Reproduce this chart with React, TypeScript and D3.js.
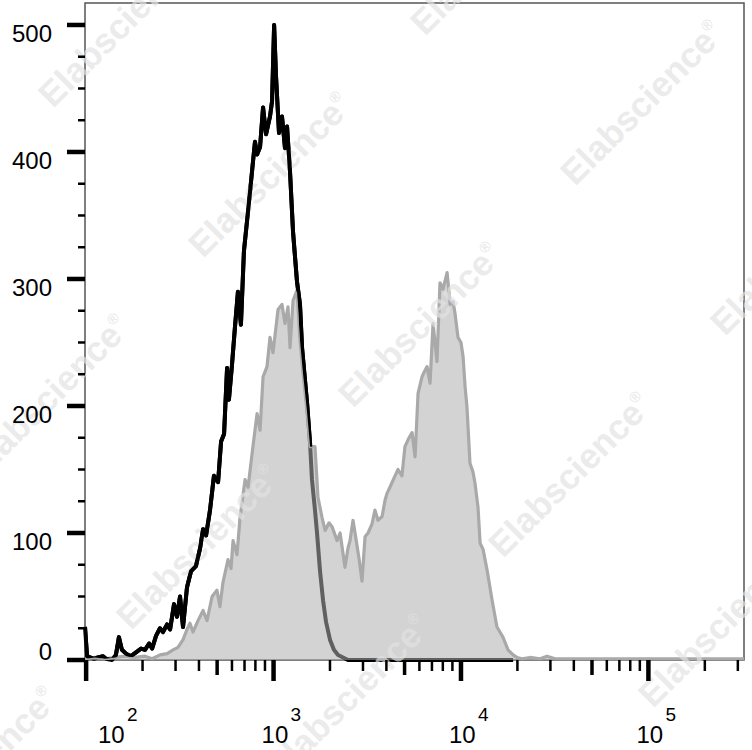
import { useEffect, useRef } from 'react';
import * as d3 from 'd3';

// [log10 fluorescence intensity, event count]
type Bin = [number, number];

// isotype control (black outline)
const isotypeBins: Bin[] = [
  [1.994, 26], [2.005, 3], [2.021, 2], [2.042, 1], [2.063, 2], [2.09, 3], [2.106, 1],
  [2.138, 0], [2.159, 4], [2.175, 18], [2.191, 8], [2.213, 5], [2.239, 3], [2.266, 6],
  [2.293, 9], [2.314, 8], [2.336, 13], [2.352, 9], [2.373, 19], [2.394, 25], [2.41, 22],
  [2.432, 28], [2.448, 24], [2.469, 44], [2.485, 34], [2.501, 50], [2.517, 26], [2.538, 57],
  [2.56, 70], [2.586, 74], [2.608, 88], [2.624, 103], [2.64, 98], [2.661, 118], [2.682, 145],
  [2.704, 140], [2.72, 172], [2.736, 178], [2.752, 230], [2.762, 205], [2.778, 232],
  [2.794, 262], [2.81, 290], [2.826, 264], [2.842, 322], [2.858, 345], [2.874, 368],
  [2.89, 392], [2.901, 408], [2.912, 398], [2.928, 404], [2.944, 435], [2.96, 414],
  [2.981, 428], [2.992, 440], [3.003, 500], [3.013, 460], [3.029, 415], [3.045, 428],
  [3.061, 403], [3.072, 420], [3.088, 384], [3.104, 337], [3.125, 298], [3.141, 280],
  [3.152, 246], [3.168, 220], [3.179, 202], [3.195, 170], [3.205, 142], [3.221, 118],
  [3.232, 100], [3.248, 70], [3.264, 47], [3.28, 30], [3.301, 16], [3.322, 8], [3.344, 4],
  [3.371, 2], [3.397, 0], [4.278, 0],
];

// stained sample (grey filled)
const stainedBins: Bin[] = [
  [1.994, 1], [2.047, 2], [2.101, 1], [2.154, 2], [2.207, 3], [2.261, 2], [2.314, 3],
  [2.352, 1], [2.394, 4], [2.432, 5], [2.464, 8], [2.49, 10], [2.517, 16], [2.538, 24],
  [2.554, 29], [2.57, 22], [2.597, 31], [2.624, 39], [2.645, 31], [2.672, 50], [2.698, 55],
  [2.714, 42], [2.73, 61], [2.757, 79], [2.773, 72], [2.784, 94], [2.805, 83], [2.821, 112],
  [2.848, 142], [2.864, 136], [2.89, 168], [2.912, 194], [2.928, 181], [2.944, 223],
  [2.965, 231], [2.981, 254], [2.997, 242], [3.024, 276], [3.045, 280], [3.061, 265],
  [3.077, 278], [3.088, 246], [3.104, 283], [3.125, 291], [3.141, 252], [3.157, 226],
  [3.179, 195], [3.195, 168], [3.221, 168], [3.237, 128], [3.259, 112], [3.275, 102],
  [3.296, 108], [3.312, 105], [3.339, 94], [3.355, 100], [3.381, 73], [3.397, 88],
  [3.408, 94], [3.424, 110], [3.44, 95], [3.456, 80], [3.472, 62], [3.488, 97], [3.504, 100],
  [3.525, 107], [3.541, 118], [3.557, 110], [3.579, 113], [3.595, 126], [3.605, 131],
  [3.627, 138], [3.648, 145], [3.664, 150], [3.685, 145], [3.701, 168], [3.723, 175],
  [3.739, 179], [3.755, 160], [3.771, 210], [3.792, 223], [3.808, 228], [3.819, 231],
  [3.835, 218], [3.851, 265], [3.872, 235], [3.888, 297], [3.904, 292], [3.926, 305],
  [3.942, 280], [3.958, 282], [3.968, 273], [3.984, 254], [4.0, 250], [4.011, 239],
  [4.022, 215], [4.032, 199], [4.048, 155], [4.064, 148], [4.075, 139], [4.091, 120],
  [4.102, 92], [4.118, 87], [4.139, 71], [4.166, 47], [4.192, 26], [4.208, 22], [4.224, 18],
  [4.251, 8], [4.278, 4], [4.299, 2], [4.326, 1], [4.368, 2], [4.422, 1], [4.459, 3],
  [4.502, 1], [4.742, 1], [5.009, 1], [5.276, 1], [5.51, 1],
];

const yMajorTicks = [0, 100, 200, 300, 400, 500];
const decades = [2, 3, 4, 5];
const watermarkText = 'Elabscience';

const WIDTH = 752;
const HEIGHT = 750;

export default function App() {
  const svgRef = useRef<SVGSVGElement>(null);

  useEffect(() => {
    if (!svgRef.current) return;
    const svg = d3.select(svgRef.current);
    svg.selectAll('*').remove();

    const left = 85;
    const right = 744;
    const top = 3;
    const bottom = 660;
    const font = 'Arial, "Liberation Sans", sans-serif';

    const x = d3.scaleLog().domain([10 ** 1.994, 10 ** 5.51]).range([left, right]);
    const y = d3.scaleLinear().domain([0, 517.3]).range([bottom, top]);
    const px = (d: Bin) => x(10 ** d[0]);

    const line = d3.line<Bin>().x(px).y((d) => y(d[1]));
    const area = d3.area<Bin>().x(px).y0(y(0)).y1((d) => y(d[1]));

    // Frame
    svg.append('rect')
      .attr('x', left)
      .attr('y', top)
      .attr('width', right - left)
      .attr('height', bottom - top)
      .attr('fill', 'none')
      .attr('stroke', '#555')
      .attr('stroke-width', 1.5);

    // Isotype line (goes under the grey fill)
    svg.append('path')
      .datum(isotypeBins)
      .attr('d', line)
      .attr('fill', 'none')
      .attr('stroke', '#000')
      .attr('stroke-width', 4)
      .attr('stroke-linejoin', 'round');

    // Stained histogram
    svg.append('path')
      .datum(stainedBins)
      .attr('d', area)
      .attr('fill', 'rgb(175,175,175)')
      .attr('fill-opacity', 0.55);

    svg.append('path')
      .datum(stainedBins)
      .attr('d', line)
      .attr('fill', 'none')
      .attr('stroke', '#a9a9a9')
      .attr('stroke-width', 3.2)
      .attr('stroke-linejoin', 'round');

    // Watermark lattice
    const wm = svg.append('g').attr('pointer-events', 'none');
    for (let i = -3; i <= 4; i++) {
      for (let j = -3; j <= 4; j++) {
        const cx = 270 + i * 150 + j * 222;
        const cy = 175 + i * 150 - j * 222;
        if (cx < -160 || cx > WIDTH + 160 || cy < -160 || cy > HEIGHT + 160) continue;
        const t = wm.append('text')
          .attr('x', cx)
          .attr('y', cy + 12)
          .attr('text-anchor', 'middle')
          .attr('transform', `rotate(-45,${cx},${cy})`)
          .attr('font-family', font)
          .attr('font-weight', 'bold')
          .attr('font-size', 35)
          .attr('fill', 'rgb(226,226,226)')
          .attr('fill-opacity', 0.7);
        t.append('tspan').text(watermarkText);
        t.append('tspan').attr('font-size', 15).attr('dy', -16).text('®');
      }
    }

    // Isotype again, only above the grey curve, so it stays pure black there
    const clipArea = d3.area<Bin>().x(px).y0(top - 20).y1((d) => y(d[1]));
    svg.append('clipPath')
      .attr('id', 'above-stained')
      .append('path')
      .datum(stainedBins)
      .attr('d', clipArea);

    svg.append('path')
      .datum(isotypeBins)
      .attr('d', line)
      .attr('fill', 'none')
      .attr('stroke', '#000')
      .attr('stroke-width', 4)
      .attr('stroke-linejoin', 'round')
      .attr('clip-path', 'url(#above-stained)');

    // Y ticks
    const yTicks = d3.range(0, 501, 25);
    svg.append('g')
      .selectAll('line')
      .data(yTicks)
      .join('line')
      .attr('x1', (d) => (d % 100 === 0 ? left - 18 : left - 7))
      .attr('x2', left)
      .attr('y1', (d) => y(d))
      .attr('y2', (d) => y(d))
      .attr('stroke', '#000')
      .attr('stroke-width', (d) => (d % 100 === 0 ? 4.5 : 2.5));

    svg.append('g')
      .selectAll('text')
      .data(yMajorTicks)
      .join('text')
      .attr('x', 52)
      .attr('y', (d) => Math.min(y(d) + 17.5, y(0)))
      .attr('text-anchor', 'end')
      .attr('font-family', font)
      .attr('font-size', 24)
      .attr('fill', '#000')
      .text((d) => String(d));

    // X ticks (log decades with 2..9 minors)
    const [d0, d1] = x.domain();
    const xTicks: { v: number; m: number }[] = [];
    decades.forEach((k) => {
      for (let m = 1; m <= 9; m++) {
        const v = m * 10 ** k;
        if (v >= d0 && v <= d1) xTicks.push({ v, m });
      }
    });

    svg.append('g')
      .selectAll('line')
      .data(xTicks)
      .join('line')
      .attr('x1', (d) => x(d.v))
      .attr('x2', (d) => x(d.v))
      .attr('y1', bottom)
      .attr('y2', (d) => bottom + (d.m === 1 ? 21 : d.m === 5 ? 15 : 11))
      .attr('stroke', '#000')
      .attr('stroke-width', (d) => (d.m === 1 ? 4.5 : d.m === 5 ? 3.5 : 2.5));

    const xl = svg.append('g').attr('font-family', font).attr('fill', '#000');
    decades.forEach((k) => {
      const lx = Math.max(x(10 ** k) - 12, left + 13);
      xl.append('text').attr('x', lx).attr('y', 743).attr('font-size', 24).text('10');
      xl.append('text').attr('x', lx + 29).attr('y', 721).attr('font-size', 19).text(String(k));
    });
  }, []);

  return (
    <svg
      ref={svgRef}
      width={WIDTH}
      height={HEIGHT}
      style={{ position: 'absolute', left: 0, top: 0, background: '#fff', display: 'block' }}
    />
  );
}
